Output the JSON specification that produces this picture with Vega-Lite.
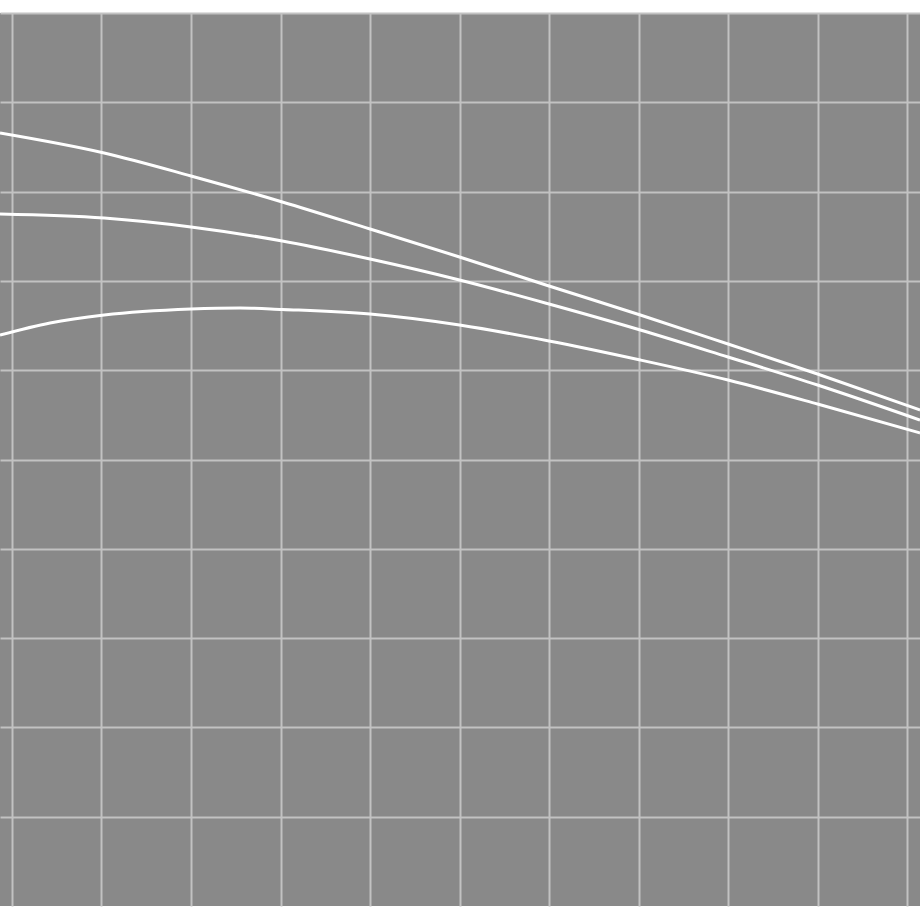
{
  "$schema": "https://vega.github.io/schema/vega-lite/v6.json",
  "width": 920,
  "height": 893,
  "autosize": {"type": "none"},
  "padding": {"left": 0, "top": 13, "right": 0, "bottom": 14},
  "background": "#ffffff",
  "config": {
    "view": {"fill": "#898989", "stroke": null},
    "axis": {
      "grid": true,
      "gridColor": "#c2c2c2",
      "gridWidth": 2,
      "gridOpacity": 1,
      "labels": false,
      "ticks": false,
      "domain": false,
      "title": null
    }
  },
  "data": {
    "values": [
      {"series": "A", "x": -0.134, "y": 8.656},
      {"series": "A", "x": 1.03, "y": 8.432},
      {"series": "A", "x": 2.0, "y": 8.175},
      {"series": "A", "x": 3.02, "y": 7.884},
      {"series": "A", "x": 4.0, "y": 7.581},
      {"series": "A", "x": 5.0, "y": 7.268},
      {"series": "A", "x": 6.0, "y": 6.943},
      {"series": "A", "x": 7.02, "y": 6.618},
      {"series": "A", "x": 8.0, "y": 6.293},
      {"series": "A", "x": 9.0, "y": 5.957},
      {"series": "A", "x": 10.145, "y": 5.554},
      {"series": "B", "x": -0.134, "y": 7.749},
      {"series": "B", "x": 1.03, "y": 7.704},
      {"series": "B", "x": 2.0, "y": 7.604},
      {"series": "B", "x": 3.02, "y": 7.447},
      {"series": "B", "x": 4.0, "y": 7.245},
      {"series": "B", "x": 5.0, "y": 7.01},
      {"series": "B", "x": 6.0, "y": 6.741},
      {"series": "B", "x": 7.02, "y": 6.45},
      {"series": "B", "x": 8.0, "y": 6.148},
      {"series": "B", "x": 9.0, "y": 5.834},
      {"series": "B", "x": 10.145, "y": 5.442},
      {"series": "C", "x": -0.134, "y": 6.394},
      {"series": "C", "x": 0.425, "y": 6.529},
      {"series": "C", "x": 1.03, "y": 6.618},
      {"series": "C", "x": 2.0, "y": 6.685},
      {"series": "C", "x": 2.55, "y": 6.697},
      {"series": "C", "x": 3.02, "y": 6.68},
      {"series": "C", "x": 4.0, "y": 6.629},
      {"series": "C", "x": 5.0, "y": 6.506},
      {"series": "C", "x": 6.0, "y": 6.327},
      {"series": "C", "x": 7.02, "y": 6.114},
      {"series": "C", "x": 8.0, "y": 5.89},
      {"series": "C", "x": 9.0, "y": 5.622},
      {"series": "C", "x": 10.145, "y": 5.297}
    ]
  },
  "mark": {"type": "line", "color": "#ffffff", "strokeWidth": 3, "interpolate": "monotone", "clip": true},
  "encoding": {
    "x": {
      "field": "x",
      "type": "quantitative",
      "scale": {"domain": [-0.134, 10.145], "nice": false, "zero": false},
      "axis": {"values": [0, 1, 2, 3, 4, 5, 6, 7, 8, 9, 10]}
    },
    "y": {
      "field": "y",
      "type": "quantitative",
      "scale": {"domain": [0, 10], "nice": false, "zero": false},
      "axis": {"values": [1, 2, 3, 4, 5, 6, 7, 8, 9, 10]}
    },
    "detail": {"field": "series", "type": "nominal"}
  }
}
